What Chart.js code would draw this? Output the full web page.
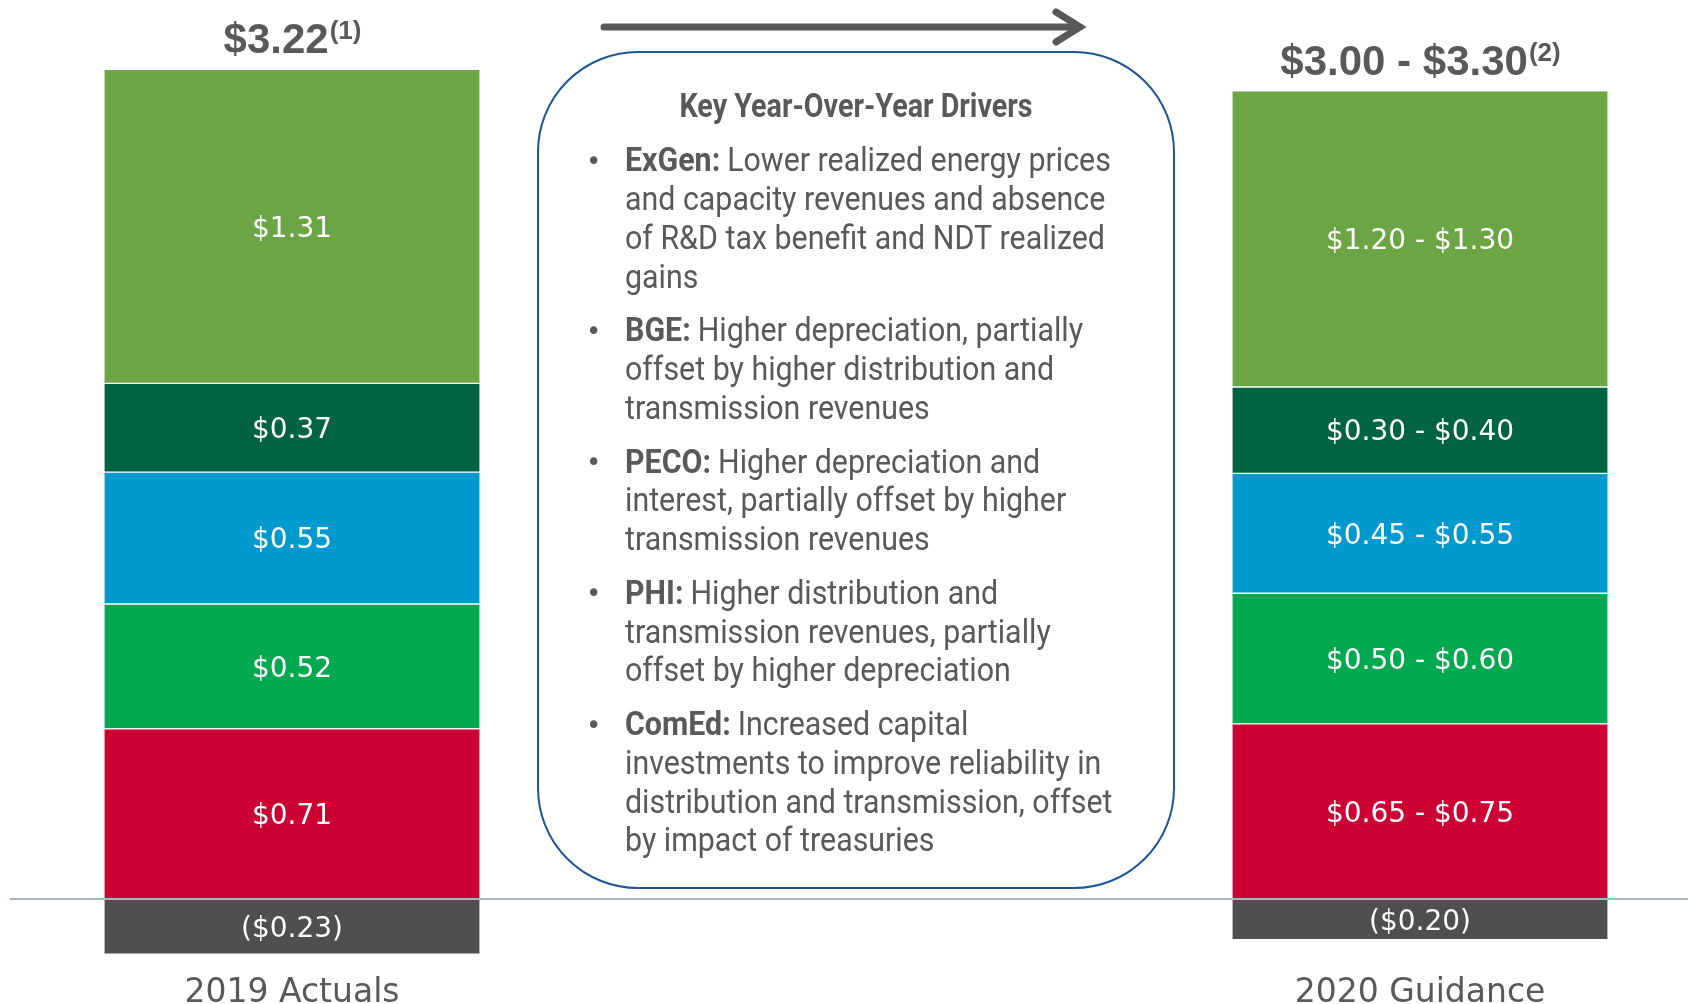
<!DOCTYPE html>
<html>
<head>
<meta charset="utf-8">
<script src="https://cdn.jsdelivr.net/npm/chart.js@4.4.0/dist/chart.umd.min.js"></script>
<style>
  html, body { margin: 0; padding: 0; background: #fff; }
  #wrap { position: relative; width: 1688px; height: 1004px; }
</style>
</head>
<body>
<div id="wrap"><canvas id="chart"></canvas></div>
<script>
// chart data
const categories = ['2019 Actuals', '2020 Guidance'];
const totalLabels = ['$3.22', '$3.00 - $3.30'];
const totalNotes = ['(1)', '(2)'];

const comEd = [0.71, 0.73];
const phi = [0.52, 0.545];
const peco = [0.55, 0.50];
const bge = [0.37, 0.36];
const exGen = [1.31, 1.235];
const holdCo = [-0.23, -0.17];

const comEdLabels = ['$0.71', '$0.65 - $0.75'];
const phiLabels = ['$0.52', '$0.50 - $0.60'];
const pecoLabels = ['$0.55', '$0.45 - $0.55'];
const bgeLabels = ['$0.37', '$0.30 - $0.40'];
const exGenLabels = ['$1.31', '$1.20 - $1.30'];
const holdCoLabels = ['($0.23)', '($0.20)'];

const driversTitle = 'Key Year-Over-Year Drivers';
const drivers = [
  { lead: 'ExGen:', lines: ['Lower realized energy prices', 'and capacity revenues and absence', 'of R&D tax benefit and NDT realized', 'gains'] },
  { lead: 'BGE:', lines: ['Higher depreciation, partially', 'offset by higher distribution and', 'transmission revenues'] },
  { lead: 'PECO:', lines: ['Higher depreciation and', 'interest, partially offset by higher', 'transmission revenues'] },
  { lead: 'PHI:', lines: ['Higher distribution and', 'transmission revenues, partially', 'offset by higher depreciation'] },
  { lead: 'ComEd:', lines: ['Increased capital', 'investments to improve reliability in', 'distribution and transmission, offset', 'by impact of treasuries'] }
];

const GREY = '#595959';

function seg(label, data, valueLabels, color) {
  return {
    label, data, valueLabels,
    backgroundColor: color,
    borderColor: '#ffffff',
    borderWidth: { top: 1, bottom: 1, left: 0, right: 0 },
    borderSkipped: false,
    barThickness: 375,
    clip: false
  };
}

function condText(ctx, str, x, y, font, sx) {
  ctx.save();
  ctx.font = font;
  ctx.translate(x, y);
  ctx.scale(sx, 1);
  ctx.fillText(str, 0, 0);
  const w = ctx.measureText(str).width * sx;
  ctx.restore();
  return w;
}

const overlay = {
  id: 'overlay',
  afterDatasetsDraw(chart) {
    const ctx = chart.ctx;
    const xs = chart.scales.x, ys = chart.scales.y;

    // value labels inside segments
    ctx.save();
    ctx.fillStyle = '#ffffff';
    ctx.font = '28px "DejaVu Sans"';
    ctx.textAlign = 'center';
    ctx.textBaseline = 'middle';
    chart.data.datasets.forEach((ds, di) => {
      chart.getDatasetMeta(di).data.forEach((bar, i) => {
        ctx.fillText(ds.valueLabels[i], bar.x, (bar.y + bar.base) / 2 + 3);
      });
    });
    ctx.restore();

    // zero line
    const y0 = Math.round(ys.getPixelForValue(0));
    ctx.save();
    ctx.strokeStyle = '#a9b6c2';
    ctx.lineWidth = 2;
    ctx.beginPath();
    ctx.moveTo(10, y0);
    ctx.lineTo(chart.width, y0);
    ctx.stroke();
    ctx.restore();

    // totals and category names
    categories.forEach((cat, i) => {
      const cx = xs.getPixelForValue(i);
      let pos = 0;
      chart.data.datasets.forEach(ds => { if (ds.data[i] > 0) pos += ds.data[i]; });
      const top = ys.getPixelForValue(pos);
      ctx.save();
      ctx.fillStyle = GREY;
      ctx.textBaseline = 'alphabetic';
      ctx.textAlign = 'left';
      ctx.font = 'bold 42px "Liberation Sans"';
      const w1 = ctx.measureText(totalLabels[i]).width;
      ctx.font = 'bold 26px "Liberation Sans"';
      const w2 = ctx.measureText(totalNotes[i]).width;
      const sx = cx - (w1 + w2) / 2;
      ctx.font = 'bold 42px "Liberation Sans"';
      ctx.fillText(totalLabels[i], sx, top - 16);
      ctx.font = 'bold 26px "Liberation Sans"';
      ctx.fillText(totalNotes[i], sx + w1 + 1, top - 30);

      ctx.font = '33px "DejaVu Sans"';
      ctx.textAlign = 'center';
      ctx.fillText(cat, cx, 1002);
      ctx.restore();
    });

    // arrow
    ctx.save();
    ctx.strokeStyle = GREY;
    ctx.lineWidth = 7;
    ctx.lineCap = 'round';
    ctx.beginPath();
    ctx.moveTo(604, 27);
    ctx.lineTo(1077, 27);
    ctx.stroke();
    ctx.beginPath();
    ctx.moveTo(1056, 12);
    ctx.lineTo(1080, 27);
    ctx.lineTo(1056, 42);
    ctx.stroke();
    ctx.restore();

    // drivers box
    ctx.save();
    ctx.strokeStyle = '#1f5592';
    ctx.lineWidth = 2;
    ctx.beginPath();
    ctx.roundRect(538, 52, 636, 836, 100);
    ctx.stroke();

    ctx.fillStyle = GREY;
    ctx.textBaseline = 'middle';
    ctx.textAlign = 'center';
    condText(ctx, driversTitle, 856, 109, 'bold 33px Roboto', 0.87);

    ctx.textAlign = 'left';
    let ly = 163;
    drivers.forEach(d => {
      ctx.font = '26px "DejaVu Sans"';
      ctx.fillText('\u2022', 586, ly);
      d.lines.forEach((line, li) => {
        let lx = 625;
        if (li === 0) {
          lx += condText(ctx, d.lead, lx, ly, 'bold 33px Roboto', 0.92) + 7;
        }
        condText(ctx, line, lx, ly, '33px Roboto', 0.92);
        ly += 38.75;
      });
      ly += 15;
    });
    ctx.restore();
  }
};

new Chart(document.getElementById('chart'), {
  type: 'bar',
  data: {
    labels: categories,
    datasets: [
      seg('ComEd', comEd, comEdLabels, '#cc0033'),
      seg('PHI', phi, phiLabels, '#00a84f'),
      seg('PECO', peco, pecoLabels, '#0099cd'),
      seg('BGE', bge, bgeLabels, '#006341'),
      seg('ExGen', exGen, exGenLabels, '#6ba544'),
      seg('HoldCo', holdCo, holdCoLabels, '#4f4f4f')
    ]
  },
  options: {
    responsive: true,
    maintainAspectRatio: false,
    animation: false,
    layout: { padding: { left: 292, right: 268, top: 0, bottom: 0 } },
    plugins: { legend: { display: false }, tooltip: { enabled: false } },
    scales: {
      x: { stacked: true, display: false, offset: false },
      y: { stacked: true, display: false, min: -0.438, max: 3.749 }
    }
  },
  plugins: [overlay]
});
</script>
</body>
</html>
